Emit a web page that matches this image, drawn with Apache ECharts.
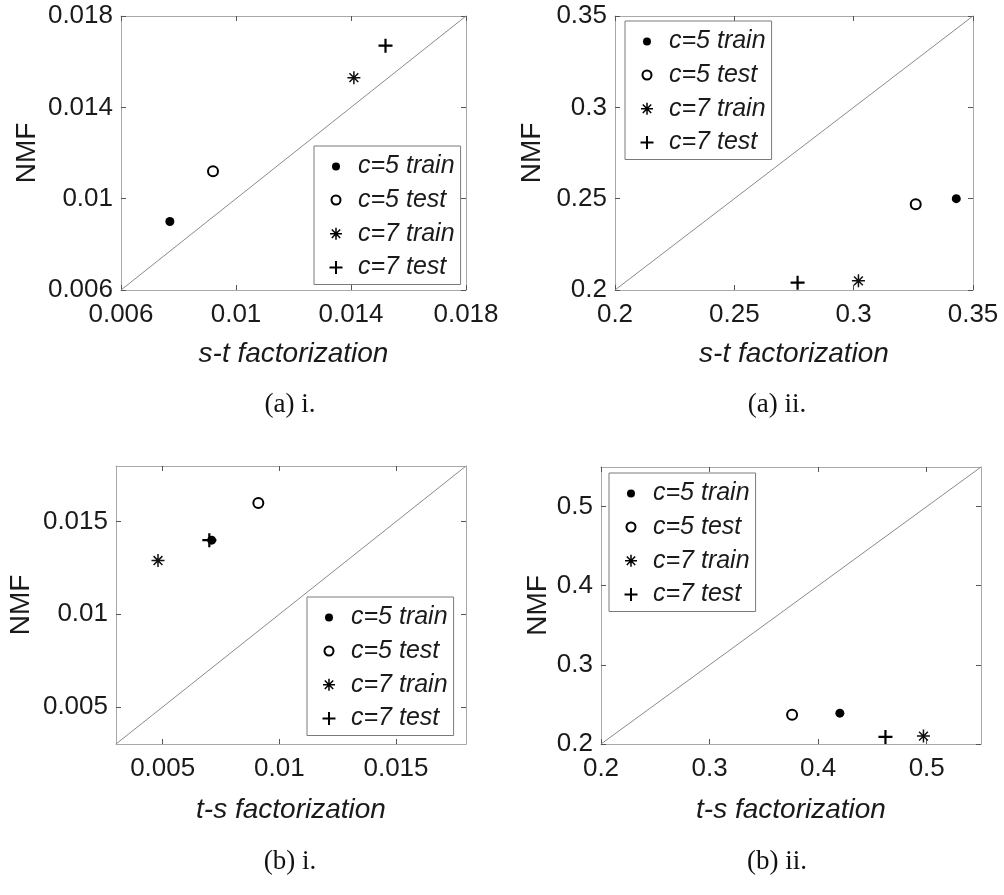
<!DOCTYPE html>
<html>
<head>
<meta charset="utf-8">
<title>NMF comparison</title>
<script src="https://cdn.jsdelivr.net/npm/echarts@6/dist/echarts.min.js"></script>
<style>
    html, body { margin: 0; padding: 0; background: #fff; }
    #chart { width: 1004px; height: 895px; }
</style>
</head>
<body>
<div id="chart"></div>
<script>
// legend / series names
var seriesNames = [ 'c=5 train', 'c=5 test', 'c=7 train', 'c=7 test' ];

// (a) i.  s-t factorization vs NMF
var aiX = [ 0.0077, 0.0092, 0.0141, 0.0152 ];
var aiY = [ 0.0090, 0.0112, 0.0153, 0.0167 ];
var aiRange = [ 0.006, 0.018 ];
var aiTicks = [ 0.006, 0.01, 0.014, 0.018 ];

// (a) ii.
var aiiX = [ 0.343, 0.326, 0.302, 0.2765 ];
var aiiY = [ 0.250, 0.247, 0.205, 0.204 ];
var aiiRange = [ 0.2, 0.35 ];
var aiiTicks = [ 0.2, 0.25, 0.3, 0.35 ];

// (b) i.  t-s factorization vs NMF
var biX = [ 0.0071, 0.0091, 0.0048, 0.0070 ];
var biY = [ 0.0140, 0.0160, 0.0129, 0.0140 ];
var biRange = [ 0.003, 0.018 ];
var biTicks = [ 0.005, 0.01, 0.015 ];

// (b) ii.
var biiX = [ 0.420, 0.376, 0.497, 0.462 ];
var biiY = [ 0.239, 0.237, 0.210, 0.209 ];
var biiRange = [ 0.2, 0.55 ];
var biiTicks = [ 0.2, 0.3, 0.4, 0.5 ];

var nmf_chart = {
    font : 'Liberation Sans',
    boxColor : '#a8a8a8',
    // marker per series: filled dot, open circle, asterisk, plus
    symbols : [ 'circle', 'circle', 'path://M0,5 L10,5 M5,0 L5,10 M1.6,1.6 L8.4,8.4 M8.4,1.6 L1.6,8.4', 'path://M0,5 L10,5 M5,0 L5,10' ],
    sizes : [ 9, 10, 13, 14 ],
    styles : [ {
        color : '#000',
        opacity : 1
    }, {
        color : 'transparent',
        borderColor : '#000',
        borderWidth : 2,
        opacity : 1
    }, {
        color : 'transparent',
        borderColor : '#111',
        borderWidth : 1.5,
        opacity : 1
    }, {
        color : 'transparent',
        borderColor : '#000',
        borderWidth : 2.2,
        opacity : 1
    } ],
    // legend icons padded with corner moves so they keep the marker size
    legendIcons : [ 'path://M0,0 M24,24 M12,8 A4,4 0 1 1 11.99,8 Z', 'path://M0,0 M24,24 M12,7.5 A4.5,4.5 0 1 1 11.99,7.5 Z', 'path://M0,0 M24,24 M6,12 L18,12 M12,6 L12,18 M7.8,7.8 L16.2,16.2 M16.2,7.8 L7.8,16.2', 'path://M0,0 M24,24 M5.5,12 L18.5,12 M12,5.5 L12,18.5' ],

    panels : [ {
        grid : [ 121, 16, 345, 274 ],
        xs : aiX, ys : aiY, range : aiRange, ticks : aiTicks,
        xName : 's-t factorization', xGap : 50, yGap : 80,
        legend : [ 314, 146 ]
    }, {
        grid : [ 615, 16, 358, 274 ],
        xs : aiiX, ys : aiiY, range : aiiRange, ticks : aiiTicks,
        xName : 's-t factorization', xGap : 50, yGap : 69,
        legend : [ 625, 21 ]
    }, {
        grid : [ 116, 466, 350, 278 ],
        xs : biX, ys : biY, range : biRange, ticks : biTicks,
        xName : 't-s factorization', xGap : 52, yGap : 81,
        legend : [ 307, 597 ]
    }, {
        grid : [ 601, 467, 380, 277 ],
        xs : biiX, ys : biiY, range : biiRange, ticks : biiTicks,
        xName : 't-s factorization', xGap : 52, yGap : 49,
        legend : [ 609, 473 ]
    } ],
    captions : [ [ '(a) i.', 290, 405 ], [ '(a) ii.', 777, 405 ], [ '(b) i.', 290, 862 ], [ '(b) ii.', 777, 862 ] ],

    /**
     * 坐标轴
     */
    axis : function(p, idx, pos, isMain, isX) {
        var ax = {
            type : 'value',
            gridIndex : idx,
            position : pos,
            min : p.range[0],
            max : p.range[1],
            splitLine : { show : false },
            axisLine : { show : true, onZero : false, lineStyle : { color : this.boxColor, width : 1 } },
            axisTick : { show : true, inside : true, length : 5, customValues : p.ticks, lineStyle : { color : '#555' } },
            axisLabel : { show : isMain, customValues : p.ticks, margin : isX ? 12 : 8, color : '#1a1a1a', fontSize : 26, fontFamily : this.font }
        };
        if (isMain && isX) {
            ax.name = p.xName;
            ax.nameLocation = 'middle';
            ax.nameGap = p.xGap;
            ax.nameTextStyle = { fontSize : 28, fontStyle : 'italic', color : '#1a1a1a', fontFamily : this.font };
        }
        if (isMain && !isX) {
            ax.name = 'NMF';
            ax.nameLocation = 'middle';
            ax.nameGap = p.yGap;
            ax.nameTextStyle = { fontSize : 28, color : '#1a1a1a', fontFamily : this.font };
        }
        return ax;
    },

    init : function() {
        var option = {
            animation : false,
            backgroundColor : '#fff',
            grid : [],
            xAxis : [],
            yAxis : [],
            legend : [],
            series : [],
            graphic : []
        };
        for (var i = 0; i < this.panels.length; i++) {
            var p = this.panels[i];
            option.grid.push({ left : p.grid[0], top : p.grid[1], width : p.grid[2], height : p.grid[3] });
            // bottom/left carry labels, top/right only mirror the ticks
            option.xAxis.push(this.axis(p, i, 'bottom', true, true));
            option.xAxis.push(this.axis(p, i, 'top', false, true));
            option.yAxis.push(this.axis(p, i, 'left', true, false));
            option.yAxis.push(this.axis(p, i, 'right', false, false));

            // diagonal y = x
            option.series.push({
                type : 'line',
                xAxisIndex : i * 2,
                yAxisIndex : i * 2,
                data : [ [ p.range[0], p.range[0] ], [ p.range[1], p.range[1] ] ],
                showSymbol : false,
                silent : true,
                lineStyle : { color : '#8a8a8a', width : 1 }
            });
            for (var s = 0; s < seriesNames.length; s++) {
                option.series.push({
                    name : seriesNames[s],
                    type : 'scatter',
                    xAxisIndex : i * 2,
                    yAxisIndex : i * 2,
                    symbol : this.symbols[s],
                    symbolSize : this.sizes[s],
                    itemStyle : this.styles[s],
                    data : [ [ p.xs[s], p.ys[s] ] ]
                });
            }

            var legendData = [];
            for (var k = 0; k < seriesNames.length; k++) {
                legendData.push({
                    name : seriesNames[k],
                    icon : this.legendIcons[k],
                    itemStyle : k == 0 ? { color : '#000', opacity : 1 } : { color : 'transparent', borderColor : '#000', borderWidth : k == 2 ? 1.5 : 2, opacity : 1 }
                });
            }
            option.legend.push({
                left : p.legend[0],
                top : p.legend[1],
                orient : 'vertical',
                selectedMode : false,
                data : legendData,
                itemWidth : 24,
                itemHeight : 24,
                itemGap : 8,
                padding : [ 8, 6, 4, 9 ],
                backgroundColor : '#fff',
                borderColor : '#7a7a7a',
                borderWidth : 1,
                textStyle : { fontSize : 25, fontStyle : 'italic', color : '#1a1a1a', fontFamily : this.font, padding : [ 0, 0, 0, 5 ] }
            });
        }
        for (var c = 0; c < this.captions.length; c++) {
            option.graphic.push({
                type : 'text',
                x : this.captions[c][1],
                y : this.captions[c][2],
                style : {
                    text : this.captions[c][0],
                    fontFamily : 'Liberation Serif',
                    fontSize : 27,
                    fill : '#111',
                    align : 'center',
                    verticalAlign : 'middle'
                }
            });
        }
        var chart = echarts.init(document.getElementById('chart'));
        chart.setOption(option);
    }
};

nmf_chart.init();
</script>
</body>
</html>
